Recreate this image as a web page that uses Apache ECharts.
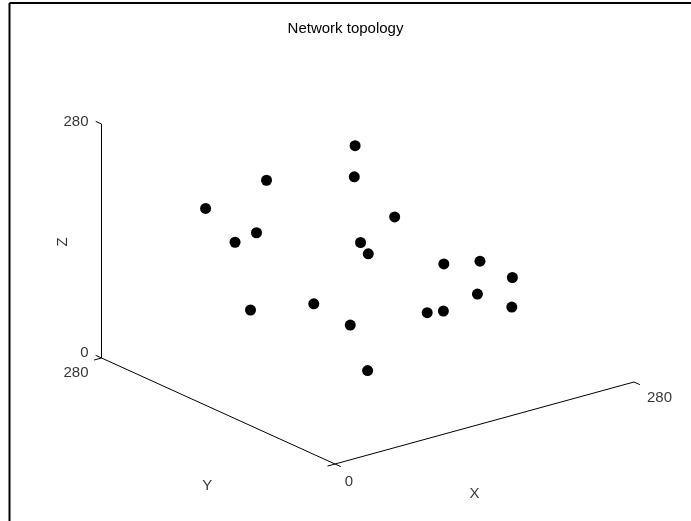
<!DOCTYPE html>
<html>
<head>
<meta charset="utf-8">
<script src="https://cdn.jsdelivr.net/npm/echarts@6/dist/echarts.min.js"></script>
<style>
  html, body { margin: 0; padding: 0; background: #fff; }
  #chart { width: 691px; height: 521px; }
</style>
</head>
<body>
<div id="chart"></div>
<script>
// Node positions (x, y, z) in the 0..280 cube
const nodeX = [35, 53, 175, 143, 86, 28, 102, 78, 173, 180, 167, 252, 149, 141, 203, 189, 38, 27, 108, 93];
const nodeY = [200, 150, 200, 160, 230, 130, 100, 60, 150, 100, 40, 110, 20, 70, 130, 30, 150, 60, 120, 80];
const nodeZ = [203, 253, 229, 221, 131, 208, 184, 197, 167, 131, 166, 85, 142, 100, 53, 108, 103, 155, 74, 43];

const axisMin = 0;
const axisMax = 280;
const tickValues = [0, 280];
const axisNames = ['X', 'Y', 'Z'];
const titleText = 'Network topology';

// Orthographic view: screen-plane offset per data unit along each axis
const ORIGIN = [335, 464];
const EX = [1.0679, -0.2929];
const EY = [-0.8339, -0.3786];
const EZ = [0, -0.8357];

function project(x, y, z) {
  return [
    ORIGIN[0] + x * EX[0] + y * EY[0] + z * EZ[0],
    ORIGIN[1] + x * EX[1] + y * EY[1] + z * EZ[1]
  ];
}

const nodes = nodeX.map((x, i) => project(x, nodeY[i], nodeZ[i]));

// Axis lines: Y axis along x = 0, X axis along y = 0, Z axis at (0, 280)
const yAxisLine = [project(axisMin, axisMax, axisMin), project(axisMin, axisMin, axisMin)];
const xAxisLine = [project(axisMin, axisMin, axisMin), project(axisMax, axisMin, axisMin)];
const zAxisLine = [project(axisMin, axisMax, axisMin), project(axisMin, axisMax, axisMax)];

// Tick marks (length in data units)
const TL = 7;
const tickSegs = [];
tickValues.forEach(v => {
  tickSegs.push([project(v, 0, 0), project(v, -TL, 0)]);                // X ticks point toward -Y
  tickSegs.push([project(0, v, 0), project(-TL, v, 0)]);                // Y ticks point toward -X
  tickSegs.push([project(0, axisMax, v), project(0, axisMax + TL, v)]); // Z ticks point toward +Y
});

const FONT = 'Liberation Sans, Arial, sans-serif';
const txt = { color: '#000', fontFamily: FONT, fontSize: 15 };

// Tick labels
const tickLabels = [
  { value: project(0, axisMax, tickValues[0]), label: Object.assign({ formatter: String(tickValues[0]), position: 'left', offset: [-8, -5] }, txt) },
  { value: project(0, axisMax, tickValues[1]), label: Object.assign({ formatter: String(tickValues[1]), position: 'left', offset: [-8, -2] }, txt) },
  { value: project(0, tickValues[1], 0), label: Object.assign({ formatter: String(tickValues[1]), position: 'left', offset: [-8, 15] }, txt) },
  { value: project(tickValues[0], tickValues[0], 0), label: Object.assign({ formatter: String(tickValues[0]), position: 'inside', offset: [14, 18] }, txt) },
  { value: project(tickValues[1], 0, 0), label: Object.assign({ formatter: String(tickValues[1]), position: 'right', offset: [8, 16] }, txt) }
];

// Axis names (the Z name is rotated, so its offset is given in the rotated frame)
const midX = project(axisMax / 2, 0, 0);
const midY = project(0, axisMax / 2, 0);
const midZ = project(0, axisMax, axisMax / 2);
const nameLabels = [
  { value: midX, label: Object.assign({ formatter: axisNames[0], position: 'inside', offset: [-10, 71] }, txt) },
  { value: midY, label: Object.assign({ formatter: axisNames[1], position: 'inside', offset: [-11, 75] }, txt) },
  { value: midZ, label: Object.assign({ formatter: axisNames[2], position: 'inside', offset: [-1, -39], rotate: 90 }, txt) }
];

const lineStyle = { color: '#000', width: 1 };
const lineSeries = (data) => ({
  type: 'line', data: data, symbol: 'none', silent: true,
  lineStyle: lineStyle, animation: false, z: 1
});

const chart = echarts.init(document.getElementById('chart'), null, { renderer: 'canvas' });
chart.setOption({
  backgroundColor: '#fff',
  animation: false,
  title: {
    text: titleText, left: 'center', top: 16,
    textStyle: { color: '#000', fontFamily: FONT, fontSize: 15, fontWeight: 'normal' }
  },
  grid: { left: 0, right: 0, top: 0, bottom: 0 },
  xAxis: { type: 'value', min: 0, max: 691, show: false },
  yAxis: { type: 'value', min: 0, max: 521, inverse: true, show: false },
  graphic: [
    { type: 'line', shape: { x1: 9.5, y1: 3, x2: 9.5, y2: 521 }, style: { stroke: '#000', lineWidth: 2 } },
    { type: 'line', shape: { x1: 9.5, y1: 3, x2: 691, y2: 3 }, style: { stroke: '#000', lineWidth: 2 } }
  ],
  series: [
    lineSeries(yAxisLine),
    lineSeries(xAxisLine),
    lineSeries(zAxisLine),
    ...tickSegs.map(lineSeries),
    {
      type: 'scatter', data: tickLabels.concat(nameLabels), symbolSize: 0,
      silent: true, label: { show: true }, z: 2
    },
    {
      type: 'scatter', data: nodes, symbol: 'circle', symbolSize: 11,
      itemStyle: { color: '#000', opacity: 1 }, z: 3
    }
  ]
});
</script>
</body>
</html>
